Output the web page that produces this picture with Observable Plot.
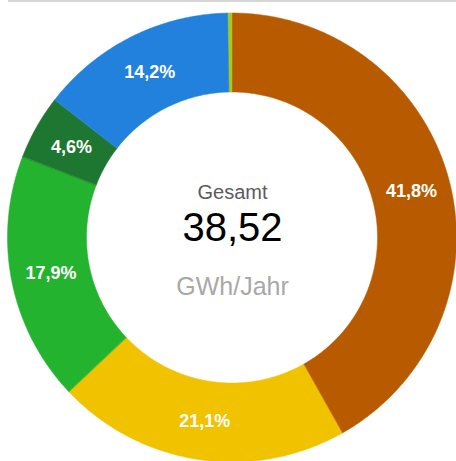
<!DOCTYPE html>
<html>
<head>
<meta charset="utf-8">
<script src="https://cdn.jsdelivr.net/npm/d3@7"></script>
<script src="https://cdn.jsdelivr.net/npm/@observablehq/plot@0.6"></script>
<style>
  html, body { margin: 0; padding: 0; background: #fff; }
  #wrap { position: relative; width: 456px; height: 461px; overflow: hidden; }
  #topline { position: absolute; left: 8px; right: 0; top: 0; height: 2px; background: #d6d6d6; }
  #chart { position: absolute; left: 0; top: 0; }
</style>
</head>
<body>
<div id="wrap"><div id="chart"></div><div id="topline"></div></div>
<script>
// Slices, clockwise from 12 o'clock
const categories = ["Kategorie 1", "Kategorie 2", "Kategorie 3", "Kategorie 4", "Kategorie 5", "Kategorie 6"];
const values = [16.12, 8.13, 6.90, 1.79, 5.48, 0.10]; // GWh/Jahr
const colors = ["#b85b00", "#f0c200", "#23b32f", "#1e7731", "#2181dd", "#a9c81a"];
const centerTexts = ["Gesamt", "38,52", "GWh/Jahr"];

const innerRatio = 145.5 / 224.5;
const total = d3.sum(values);
const fmt = v => (v * 100).toFixed(1).replace(".", ",") + "%";

// Build slice geometry in unit-circle coordinates
let acc = 0;
const slices = categories.map((c, i) => {
  const a0 = acc / total * 2 * Math.PI;
  acc += values[i];
  const a1 = acc / total * 2 * Math.PI;
  return {category: c, value: values[i], a0, a1, share: values[i] / total};
});

const ring = [];
for (const s of slices) {
  const n = Math.max(2, Math.ceil((s.a1 - s.a0) / (Math.PI / 360)));
  for (let k = 0; k <= n; k++) {
    const a = s.a0 + (s.a1 - s.a0) * k / n;
    ring.push({
      category: s.category,
      x1: innerRatio * Math.sin(a), y1: innerRatio * Math.cos(a),
      x2: Math.sin(a), y2: Math.cos(a)
    });
  }
}

const midR = (1 + innerRatio) / 2;
const labels = slices.filter(s => s.share >= 0.01).map(s => {
  const a = (s.a0 + s.a1) / 2;
  return {x: midR * Math.sin(a), y: midR * Math.cos(a), text: fmt(s.share)};
});

const center = [
  {text: centerTexts[0], size: 20, fill: "#5b5b5b", dy: -45},
  {text: centerTexts[1], size: 40, fill: "#000000", dy: -10},
  {text: centerTexts[2], size: 25, fill: "#a8a8a8", dy: 48.5}
];

const cx = 232, cy = 237.5, R = 224.5;
const font = "'Liberation Sans', Arial, sans-serif";

const chart = Plot.plot({
  width: 456,
  height: 461,
  margin: 0,
  style: {fontFamily: font, background: "transparent"},
  x: {domain: [-1, 1], range: [cx - R, cx + R], axis: null},
  y: {domain: [-1, 1], range: [cy + R, cy - R], axis: null},
  color: {domain: categories, range: colors},
  marks: [
    Plot.area(ring, {x1: "x1", y1: "y1", x2: "x2", y2: "y2", z: "category", fill: "category", stroke: "category", strokeWidth: 0.5}),
    Plot.text(labels, {x: "x", y: "y", text: "text", fill: "white", fontWeight: "bold", fontSize: 18}),
    ...center.map(c => Plot.text([c], {x: () => 0, y: () => 0, text: "text", fill: "fill", fontSize: c.size, dy: c.dy}))
  ]
});
document.getElementById("chart").appendChild(chart);
</script>
</body>
</html>
